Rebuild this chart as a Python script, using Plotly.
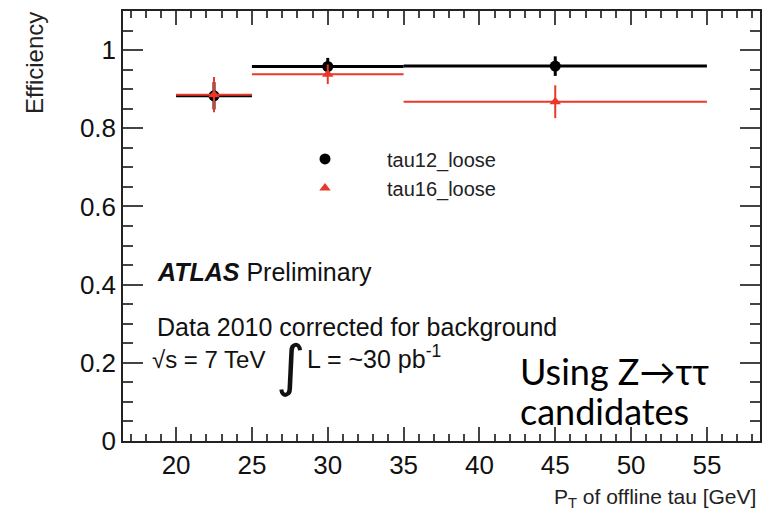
import plotly.graph_objects as go

# ---- data ----
bin_lo = [20, 25, 35]
bin_hi = [25, 35, 55]
pt_center = [22.5, 30, 45]
eff_tau12 = [0.883, 0.958, 0.959]
err_tau12 = [0.035, 0.022, 0.025]
eff_tau16 = [0.886, 0.938, 0.868]
err_tau16 = [0.045, 0.025, 0.042]
series_names = ["tau12_loose", "tau16_loose"]
x_ticks = [20, 25, 30, 35, 40, 45, 50, 55]
y_ticks = [0, 0.2, 0.4, 0.6, 0.8, 1]
y_tick_labels = ["0", "0.2", "0.4", "0.6", "0.8", "1"]

half_w = [(h - l) / 2 for l, h in zip(bin_lo, bin_hi)]

FONT = "Liberation Sans, Arial, Helvetica, sans-serif"
BLACK = "#000000"
RED = "#e8382a"
LEGEND_PAD = "\u2002\u2009"  # visual gap between legend symbol and label

# plot-area geometry in pixels (for placing text in paper coordinates)
L, R, T, B = 123, 760, 9, 441
W, H = R - L, B - T


def px(x):
    return (x - L) / W


def py(y):
    return (B - y) / H


fig = go.Figure()
fig.add_trace(go.Scatter(
    x=pt_center, y=eff_tau12, mode="markers", name=LEGEND_PAD + series_names[0],
    legendgroup="a",
    marker=dict(symbol="circle", size=11, color=BLACK),
    error_x=dict(type="data", array=half_w, symmetric=True, color=BLACK, thickness=3, width=0),
    error_y=dict(type="data", array=err_tau12, symmetric=True, color=BLACK, thickness=3, width=0),
))
fig.add_trace(go.Scatter(
    x=pt_center, y=eff_tau16, mode="markers", name=LEGEND_PAD + series_names[1],
    legendgroup="b",
    marker=dict(symbol="triangle-up", size=10, color=RED),
    error_x=dict(type="data", array=half_w, symmetric=True, color=RED, thickness=2, width=0),
    error_y=dict(type="data", array=err_tau16, symmetric=True, color=RED, thickness=2, width=0),
))

axis_common = dict(
    showgrid=False, zeroline=False, showline=True, linecolor="#222", linewidth=1.5,
    ticks="inside", mirror="allticks", tickcolor="#444", tickwidth=1.5,
    tickfont=dict(family=FONT, size=26, color="#111"),
)

fig.update_xaxes(
    range=[16.5, 58.5], tickvals=x_ticks, ticklen=14,
    minor=dict(dtick=1, ticks="inside", ticklen=7, tickcolor="#444", tickwidth=1.5),
    **axis_common,
)
fig.update_yaxes(
    range=[0, 1.1], tickvals=y_ticks, ticktext=y_tick_labels, ticklen=20,
    minor=dict(dtick=0.05, ticks="inside", ticklen=10, tickcolor="#444", tickwidth=1.5),
    **axis_common,
)

fig.update_layout(
    width=781, height=515,
    margin=dict(l=L, r=781 - R, t=T, b=515 - B),
    paper_bgcolor="white", plot_bgcolor="white",
    showlegend=True,
    legend=dict(
        x=px(277), y=py(138), xanchor="left", yanchor="top",
        bgcolor="rgba(0,0,0,0)", font=dict(family=FONT, size=20, color="#222"),
        traceorder="grouped", tracegroupgap=0, itemwidth=86,
    ),
    font=dict(family=FONT),
)

annotations = [
    dict(x=px(34), y=py(8), xref="paper", yref="paper", xanchor="center", yanchor="top",
         text="Efficiency", textangle=-90, showarrow=False,
         font=dict(family=FONT, size=24, color="#222")),
    dict(x=px(758), y=py(498), xref="paper", yref="paper", xanchor="right", yanchor="middle",
         text="P<sub>T</sub> of offline tau [GeV]", showarrow=False,
         font=dict(family=FONT, size=21, color="#222")),
    dict(x=px(155), y=py(271), xref="paper", yref="paper", xanchor="left", yanchor="middle",
         text="<b><i>ATLAS</i></b> Preliminary", showarrow=False,
         font=dict(family=FONT, size=25, color="#111")),
    dict(x=px(155), y=py(326), xref="paper", yref="paper", xanchor="left", yanchor="middle",
         text="Data 2010 corrected for background", showarrow=False,
         font=dict(family=FONT, size=25, color="#111")),
    dict(x=px(150), y=py(359), xref="paper", yref="paper", xanchor="left", yanchor="middle",
         text="√s = 7 TeV", showarrow=False,
         font=dict(family=FONT, size=24, color="#111")),
    dict(x=px(290), y=py(365), xref="paper", yref="paper", xanchor="center", yanchor="middle",
         text="∫", showarrow=False,
         font=dict(family="DejaVu Sans", size=56, color="#111")),
    dict(x=px(305), y=py(357), xref="paper", yref="paper", xanchor="left", yanchor="middle",
         text="L = ~30 pb<sup>-1</sup>", showarrow=False,
         font=dict(family=FONT, size=25, color="#111")),
    dict(x=px(518), y=py(371), xref="paper", yref="paper", xanchor="left", yanchor="middle",
         text="Using Z→ττ", showarrow=False,
         font=dict(family="Lato, Open Sans, sans-serif", size=36, color="#000")),
    dict(x=px(518), y=py(411), xref="paper", yref="paper", xanchor="left", yanchor="middle",
         text="candidates", showarrow=False,
         font=dict(family="Lato, Open Sans, sans-serif", size=36, color="#000")),
]
fig.update_layout(annotations=annotations)

fig.write_html("out.html")
